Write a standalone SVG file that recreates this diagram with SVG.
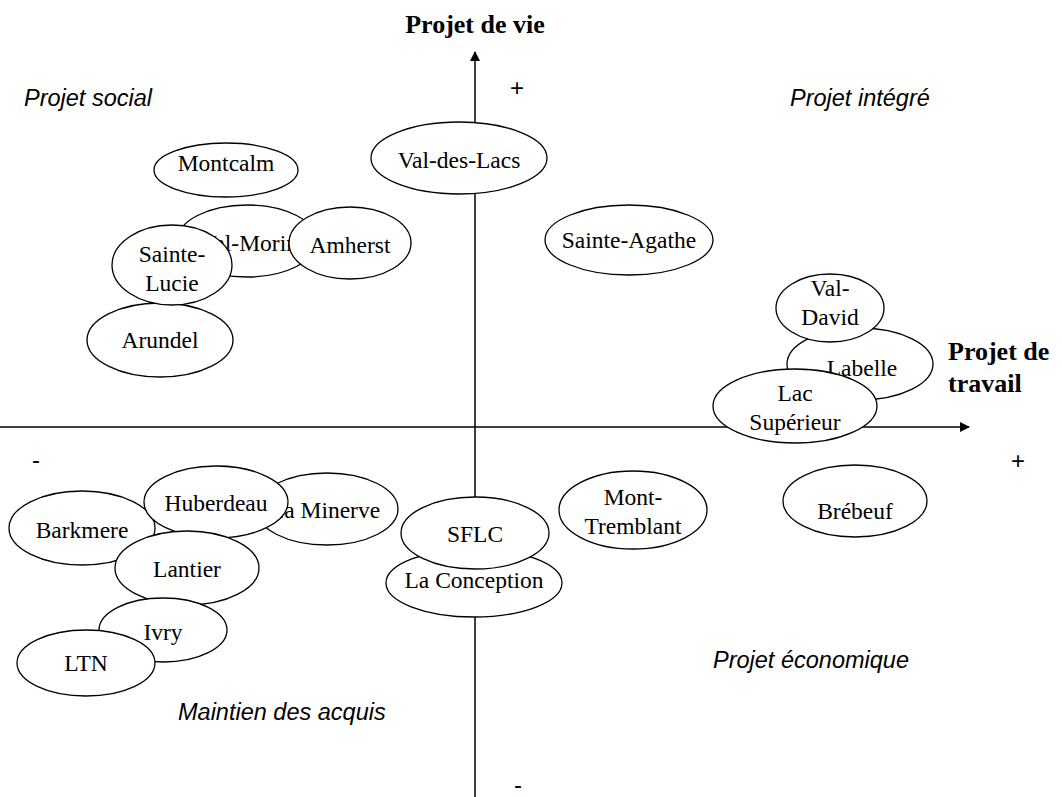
<svg xmlns="http://www.w3.org/2000/svg" width="1062" height="797" viewBox="0 0 1062 797">
<style>
.n ellipse{fill:#fff;stroke:#000;stroke-width:1.3}
.n text{font-family:"Liberation Serif",serif;font-size:23.5px;text-anchor:middle;fill:#000}
.b{font-family:"Liberation Serif",serif;font-size:26px;font-weight:bold;fill:#000}
.i{font-family:"Liberation Sans",sans-serif;font-size:23.5px;font-style:italic;fill:#000}
.s{font-family:"Liberation Sans",sans-serif;font-size:24px;text-anchor:middle;fill:#000}
</style>
<defs>
<marker id="ah" markerWidth="10" markerHeight="10" refX="9" refY="5" orient="auto" markerUnits="userSpaceOnUse">
<path d="M0,0 L10,5 L0,10 z" fill="#000"/>
</marker>
</defs>
<rect width="1062" height="797" fill="#fff"/>
<g id="axes">
<line x1="475" y1="797" x2="475" y2="52" stroke="#000" stroke-width="1.5" marker-end="url(#ah)"/>
<line x1="0" y1="427" x2="969" y2="427" stroke="#000" stroke-width="1.5" marker-end="url(#ah)"/>
</g>
<text class="b" x="475" y="33" text-anchor="middle">Projet de vie</text>
<text class="b" x="948" y="360">Projet de</text>
<text class="b" x="948" y="392">travail</text>
<text class="i" x="24" y="106">Projet social</text>
<text class="i" x="790" y="106">Projet intégré</text>
<text class="i" x="713" y="668">Projet économique</text>
<text class="i" x="178" y="720">Maintien des acquis</text>
<text class="s" x="517" y="96">+</text>
<text class="s" x="36" y="468">-</text>
<text class="s" x="1018" y="469">+</text>
<text class="s" x="518" y="793">-</text>
<g id="montcalm" class="n"><ellipse cx="226" cy="170" rx="72" ry="27"/><text x="226" y="171">Montcalm</text></g>
<g id="val-des-lacs" class="n"><ellipse cx="459" cy="158" rx="88" ry="36"/><text x="459" y="168">Val-des-Lacs</text></g>
<g id="val-morin" class="n"><ellipse cx="247" cy="241" rx="70" ry="36"/><text x="249" y="251">Val-Morin</text></g>
<g id="amherst" class="n"><ellipse cx="350" cy="243" rx="61" ry="36"/><text x="350" y="253">Amherst</text></g>
<g id="arundel" class="n"><ellipse cx="160" cy="340" rx="73" ry="37"/><text x="160" y="348">Arundel</text></g>
<g id="sainte-lucie" class="n"><ellipse cx="172" cy="265" rx="60" ry="40"/><text x="172" y="262">Sainte-</text><text x="172" y="291">Lucie</text></g>
<g id="sainte-agathe" class="n"><ellipse cx="629" cy="240" rx="84" ry="35"/><text x="629" y="248">Sainte-Agathe</text></g>
<g id="labelle" class="n"><ellipse cx="860" cy="364" rx="73" ry="36"/><text x="862" y="376">Labelle</text></g>
<g id="val-david" class="n"><ellipse cx="830" cy="308" rx="54" ry="34"/><text x="830" y="296">Val-</text><text x="830" y="325">David</text></g>
<g id="lac-superieur" class="n"><ellipse cx="795" cy="406" rx="82" ry="37"/><text x="795" y="401">Lac</text><text x="795" y="430">Supérieur</text></g>
<g id="brebeuf" class="n"><ellipse cx="855" cy="501" rx="72" ry="36"/><text x="855" y="519">Brébeuf</text></g>
<g id="mont-tremblant" class="n"><ellipse cx="633" cy="510" rx="74" ry="39"/><text x="633" y="505">Mont-</text><text x="633" y="534">Tremblant</text></g>
<g id="la-conception" class="n"><ellipse cx="474" cy="583" rx="88" ry="34"/><text x="474" y="588">La Conception</text></g>
<g id="sflc" class="n"><ellipse cx="475" cy="533" rx="74" ry="36"/><text x="475" y="542">SFLC</text></g>
<g id="la-minerve" class="n"><ellipse cx="327" cy="509" rx="71" ry="36"/><text x="325" y="518">La Minerve</text></g>
<g id="barkmere" class="n"><ellipse cx="82" cy="528" rx="73" ry="37"/><text x="82" y="538">Barkmere</text></g>
<g id="huberdeau" class="n"><ellipse cx="216" cy="502" rx="72" ry="36"/><text x="216" y="511">Huberdeau</text></g>
<g id="lantier" class="n"><ellipse cx="187" cy="568" rx="72" ry="37"/><text x="187" y="577">Lantier</text></g>
<g id="ivry" class="n"><ellipse cx="163" cy="630" rx="64" ry="32"/><text x="163" y="640">Ivry</text></g>
<g id="ltn" class="n"><ellipse cx="86" cy="663" rx="69" ry="33"/><text x="86" y="671">LTN</text></g>
</svg>
